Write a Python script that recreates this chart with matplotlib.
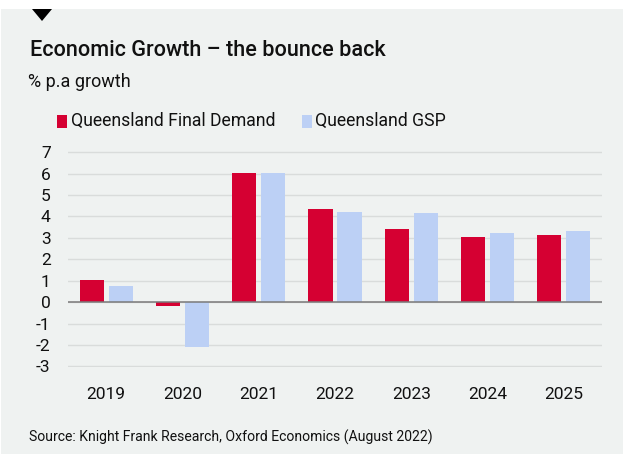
import matplotlib

matplotlib.use("Agg")
import matplotlib.pyplot as plt
import numpy as np
from matplotlib.patches import Polygon, Rectangle

years = ["2019", "2020", "2021", "2022", "2023", "2024", "2025"]
final_demand = [1.05, -0.2, 6.03, 4.37, 3.42, 3.03, 3.13]
gsp = [0.76, -2.1, 6.03, 4.21, 4.17, 3.22, 3.31]
yticks = [-3, -2, -1, 0, 1, 2, 3, 4, 5, 6, 7]

RED = "#d50032"
BLUE = "#bcd0f5"
BG = "#eff2f1"
FONT = "Roboto"

plt.rcParams["font.family"] = [FONT, "DejaVu Sans"]

fig = plt.figure(figsize=(6.23, 4.54), dpi=100)
fig.patch.set_facecolor("white")

# grey card background and the small marker triangle at the top
fig.patches.append(Rectangle((0.002, 0), 1.0, 445 / 454, transform=fig.transFigure,
                             facecolor=BG, edgecolor="none", zorder=-2))
fig.patches.append(Polygon([(32 / 623, 1 - 9 / 454), (52 / 623, 1 - 9 / 454), (42 / 623, 1 - 21 / 454)],
                           closed=True, transform=fig.transFigure, facecolor="black",
                           edgecolor="none", zorder=-1))

ax = fig.add_axes([68 / 623, 0.1907, (602 - 68) / 623, 0.667 - 0.1907])
ax.set_facecolor("none")

x = np.arange(len(years))
w = 0.315
off = 0.19
ax.bar(x - off, final_demand, width=w, color=RED, zorder=3, label="Queensland Final Demand")
ax.bar(x + off, gsp, width=w, color=BLUE, zorder=3, label="Queensland GSP")

ax.set_xlim(-0.5, len(years) - 0.5)
ax.set_ylim(-3.05, 7.05)
ax.set_yticks(yticks)
ax.set_yticklabels([str(t) for t in yticks])
ax.set_xticks(x)
ax.set_xticklabels(years)
ax.tick_params(axis="both", length=0, labelsize=12.5, colors="#111111")
ax.tick_params(axis="y", pad=12.5)
ax.tick_params(axis="x", pad=14)
for s in ax.spines.values():
    s.set_visible(False)
ax.grid(axis="y", color="#d9dcdb", linewidth=1.0, zorder=0)
ax.axhline(0, color="#7a7a7a", linewidth=1.1, zorder=4)

fig.text(30 / 623, 1 - 50 / 454, "Economic Growth \u2013 the bounce back", fontsize=15.6,
         fontweight="medium", va="center", ha="left", color="#111111")
fig.text(28 / 623, 1 - 82 / 454, "% p.a growth", fontsize=13, va="center", ha="left", color="#111111")

# legend drawn by hand to keep the spacing of the original
fig.patches.append(Rectangle((57 / 623, 1 - 128 / 454), 10 / 623, 13 / 454, transform=fig.transFigure,
                             facecolor=RED, edgecolor="none"))
fig.text(71 / 623, 1 - 120.5 / 454, "Queensland Final Demand", fontsize=12.7, va="center", ha="left",
         color="#111111")
fig.patches.append(Rectangle((302 / 623, 1 - 128 / 454), 10 / 623, 13 / 454, transform=fig.transFigure,
                             facecolor=BLUE, edgecolor="none"))
fig.text(315 / 623, 1 - 120.5 / 454, "Queensland GSP", fontsize=12.7, va="center", ha="left",
         color="#111111")

fig.text(29 / 623, 1 - 437.5 / 454, "Source: Knight Frank Research, Oxford Economics (August 2022)",
         fontsize=10.1, va="center", ha="left", color="#111111")

fig.savefig("out.png", dpi=100, facecolor=fig.get_facecolor())
